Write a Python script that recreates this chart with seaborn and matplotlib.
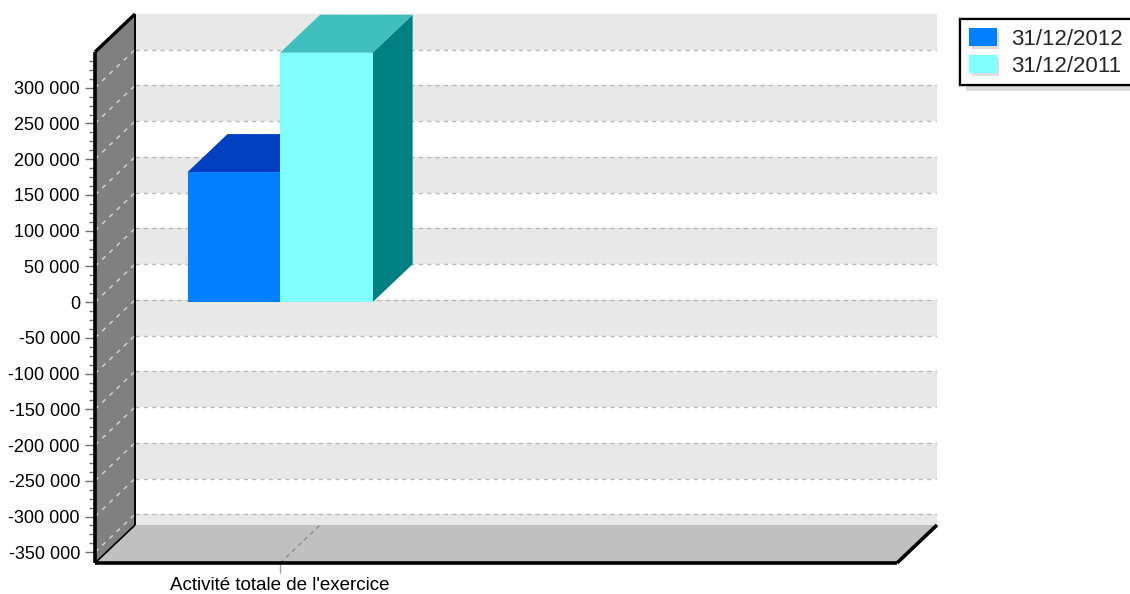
import matplotlib
matplotlib.use("Agg")
import matplotlib.pyplot as plt
from matplotlib.patches import Polygon, Rectangle
from matplotlib import patheffects as pe
import seaborn as sns
import pandas as pd
import numpy as np

# --- data ---
category = "Activité totale de l'exercice"
series = ["31/12/2012", "31/12/2011"]
values = [182000, 349000]
front_colors = ["#0080FF", "#80FFFF"]
top_colors = ["#0040C0", "#40BFBF"]
side_colors = ["#0040C0", "#008080"]
major_ticks = list(range(-350000, 300001, 50000))

# --- scene geometry (data units) ---
x0, x1 = -0.6, 2.0            # front plane horizontal extent
ymin, ymax = -365000, 350000  # front plane vertical extent
dx, dy = 0.1297, 53170        # depth offset of the back plane

sns.set_theme(style="white")
plt.rcParams["font.family"] = ["Liberation Sans", "DejaVu Sans"]

fig = plt.figure(figsize=(11.3, 5.94), dpi=100)
ax = fig.add_axes([95 / 1130, 31 / 594, 842 / 1130, 549 / 594])
ax.set_facecolor("none")

df = pd.DataFrame({"cat": [category] * len(series), "serie": series, "val": values})
sns.barplot(data=df, x="cat", y="val", hue="serie", palette=front_colors,
            width=0.6, dodge=True, saturation=1, errorbar=None,
            linewidth=0, legend=False, ax=ax)

ax.set_xlim(x0, x1 + dx)
ax.set_ylim(ymin, ymax + dy)
ax.set_xlabel("")
ax.set_ylabel("")
for s in ax.spines.values():
    s.set_visible(False)

# back wall with alternating bands
bx0, bx1 = x0 + dx, x1 + dx
ax.add_patch(Rectangle((bx0, ymin + dy), bx1 - bx0, ymax - ymin, facecolor="white",
                       edgecolor="none", zorder=0.4))
band_edges = [ymin] + major_ticks + [ymax]
for lo, hi in zip(band_edges[:-1], band_edges[1:]):
    if int(np.floor(lo / 50000 + 1e-9)) % 2 == 0:
        ax.add_patch(Rectangle((bx0, lo + dy), bx1 - bx0, hi - lo, facecolor="#E8E8E8",
                               edgecolor="none", zorder=0.5))
for v in major_ticks:
    ax.plot([bx0, bx1], [v + dy, v + dy], color="#B8B8B8", lw=1,
            ls=(0, (3, 3)), zorder=0.6)

# left wall
ax.add_patch(Polygon([(x0, ymin), (x0, ymax), (x0 + dx, ymax + dy), (x0 + dx, ymin + dy)],
                     closed=True, facecolor="#808080", edgecolor="none", zorder=1))
for v in major_ticks:
    ax.plot([x0, x0 + dx], [v, v + dy], color="#D0D0D0", lw=1.1,
            ls=(0, (3, 3.5)), zorder=1.2)

# floor
ax.add_patch(Polygon([(x0, ymin), (x0 + dx, ymin + dy), (x1 + dx, ymin + dy), (x1, ymin)],
                     closed=True, facecolor="#C0C0C0", edgecolor="none", zorder=1))
ax.plot([0, dx], [ymin, ymin + dy], color="#8C8C8C", lw=1, ls=(0, (3, 3)), zorder=1.2)

# wall and floor edges
edge_kw = dict(color="black", solid_capstyle="butt", clip_on=False, zorder=3)
ax.plot([x0, x0 + dx], [ymax, ymax + dy], lw=2.4, **edge_kw)
ax.plot([x0 + dx, x0 + dx], [ymin + dy, ymax + dy], lw=1.4, **edge_kw)
ax.plot([x0, x0 + dx], [ymin, ymin + dy], lw=1.2, **edge_kw)
ax.plot([x0, x0], [ymin, ymax], lw=2.6, **edge_kw)
ax.plot([x0, x1], [ymin, ymin], lw=2.6, **edge_kw)
ax.plot([x1, x1 + dx], [ymin, ymin + dy], lw=2.6, **edge_kw)

# extrude the seaborn bars into boxes
bars = [p for c in ax.containers for p in c]
for i, bar in enumerate(bars):
    bx, bw, bh = bar.get_x(), bar.get_width(), bar.get_height()
    base = 4 + 3 * i
    ax.add_patch(Polygon([(bx + bw, 0), (bx + bw, bh), (bx + bw + dx, bh + dy), (bx + bw + dx, dy)],
                         closed=True, facecolor=side_colors[i], edgecolor="none", zorder=base))
    ax.add_patch(Polygon([(bx, bh), (bx + bw, bh), (bx + bw + dx, bh + dy), (bx + dx, bh + dy)],
                         closed=True, facecolor=top_colors[i], edgecolor="none", zorder=base + 1))
    bar.set_zorder(base + 2)

# axes ticks
ax.set_yticks(major_ticks, [f"{v:,}".replace(",", " ") for v in major_ticks])
minor = [v for v in range(-350000, 350000, 12500) if v % 50000 != 0]
ax.set_yticks(minor, minor=True)
ax.tick_params(axis="y", which="major", left=True, length=7.2, width=1, color="#707070",
               pad=3.6, labelsize=13, labelcolor="black")
ax.tick_params(axis="y", which="minor", left=True, length=4.3, width=1, color="#707070")
ax.set_xticks([0], [category])
ax.tick_params(axis="x", bottom=True, length=7.5, width=1, color="#A0A0A0",
               pad=2.5, labelsize=13.5, labelcolor="black")

# legend
handles = [Rectangle((0, 0), 1, 1, facecolor=c, edgecolor="none") for c in front_colors]
leg = fig.legend(handles, series, loc="upper left",
                 bbox_to_anchor=(960 / 1130, 1 - 19 / 594), fontsize=16,
                 frameon=True, fancybox=False, edgecolor="black", framealpha=1,
                 handlelength=1.25, handleheight=0.9, handletextpad=0.65,
                 labelspacing=0.22, borderpad=0.4, borderaxespad=0)
leg.get_frame().set_linewidth(1.6)
leg.get_frame().set_path_effects([pe.withSimplePatchShadow(offset=(4, -4),
                                  shadow_rgbFace="#DCDCDC", alpha=1), pe.Normal()])
for p in leg.get_patches():
    p.set_path_effects([pe.withSimplePatchShadow(offset=(2, -2),
                        shadow_rgbFace="#DCDCDC", alpha=1), pe.Normal()])

fig.savefig("out.png", dpi=100, facecolor="white")
